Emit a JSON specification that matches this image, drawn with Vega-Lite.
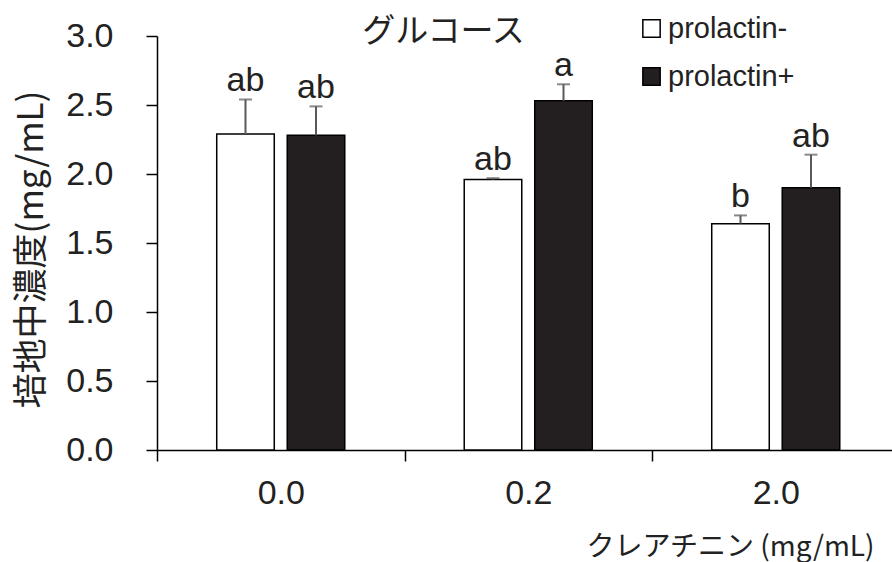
{
  "$schema": "https://vega.github.io/schema/vega-lite/v6.json",
  "width": 735,
  "height": 414,
  "autosize": {"type": "none"},
  "padding": {"left": 157, "top": 36, "right": 0, "bottom": 112},
  "background": "white",
  "config": {
    "view": {"stroke": null},
    "font": "Liberation Sans, Noto Sans CJK JP"
  },
  "title": {
    "text": "グルコース",
    "font": "Noto Sans CJK JP",
    "fontSize": 33,
    "fontWeight": "normal",
    "color": "#222222",
    "anchor": "middle",
    "frame": "group",
    "offset": 0,
    "baseline": "alphabetic",
    "dx": -81,
    "dy": 61
  },
  "data": {
    "values": [
      {"conc": "0.0", "group": "prolactin-", "value": 2.29, "upper": 2.54, "label": "ab"},
      {"conc": "0.0", "group": "prolactin+", "value": 2.28, "upper": 2.49, "label": "ab"},
      {"conc": "0.2", "group": "prolactin-", "value": 1.96, "upper": 1.97, "label": "ab"},
      {"conc": "0.2", "group": "prolactin+", "value": 2.53, "upper": 2.65, "label": "a"},
      {"conc": "2.0", "group": "prolactin-", "value": 1.64, "upper": 1.70, "label": "b"},
      {"conc": "2.0", "group": "prolactin+", "value": 1.90, "upper": 2.14, "label": "ab"}
    ]
  },
  "encoding": {
    "x": {
      "field": "conc",
      "type": "nominal",
      "sort": ["0.0", "0.2", "2.0"],
      "scale": {"range": [0, 742.5], "paddingInner": 0, "paddingOuter": 0},
      "axis": {
        "domainColor": "#000000",
        "domainWidth": 1.5,
        "tickColor": "#000000",
        "tickWidth": 1.5,
        "tickSize": 11,
        "tickBand": "extent",
        "labelAngle": 0,
        "labelFontSize": 34,
        "labelColor": "#222222",
        "labelPadding": 15,
        "labelAlign": "center",
        "title": "クレアチニン (mg/mL)",
        "titleFont": "Noto Sans CJK JP",
        "titleFontSize": 28,
        "titleFontWeight": "normal",
        "titleColor": "#222222",
        "titleX": 717,
        "titleY": 105,
        "titleAlign": "right",
        "titleBaseline": "alphabetic"
      }
    },
    "xOffset": {
      "field": "group",
      "type": "nominal",
      "sort": ["prolactin-", "prolactin+"],
      "scale": {"paddingInner": 0.184, "paddingOuter": 0.847}
    }
  },
  "layer": [
    {
      "mark": {"type": "bar", "stroke": "#000000", "strokeWidth": 1.5},
      "encoding": {
        "y": {
          "field": "value",
          "type": "quantitative",
          "scale": {"domain": [0, 3], "nice": false},
          "axis": {
            "values": [0, 0.5, 1, 1.5, 2, 2.5, 3],
            "format": ".1f",
            "grid": false,
            "domainColor": "#000000",
            "domainWidth": 1.5,
            "tickColor": "#000000",
            "tickWidth": 1.5,
            "tickSize": 11,
            "labelFontSize": 34,
            "labelColor": "#222222",
            "labelPadding": 33,
            "title": "培地中濃度(mg/mL)",
            "titleFont": "Noto Sans CJK JP",
            "titleFontSize": 35,
            "titleFontWeight": "normal",
            "titleColor": "#222222",
            "titleX": -126,
            "titleY": 213,
            "titleAngle": -90,
            "titleAlign": "center",
            "titleBaseline": "middle"
          }
        },
        "fill": {
          "field": "group",
          "type": "nominal",
          "sort": ["prolactin-", "prolactin+"],
          "scale": {"domain": ["prolactin-", "prolactin+"], "range": ["#ffffff", "#231f20"]},
          "legend": {
            "orient": "none",
            "legendX": 480,
            "legendY": -22,
            "title": null,
            "padding": 0,
            "symbolType": "square",
            "symbolSize": 300,
            "symbolStrokeColor": "#000000",
            "symbolStrokeWidth": 1.5,
            "symbolOpacity": 1,
            "labelFontSize": 29,
            "labelColor": "#222222",
            "labelOffset": 2,
            "rowPadding": 18
          }
        }
      }
    },
    {
      "mark": {"type": "rule", "color": "#595959", "strokeWidth": 2},
      "encoding": {
        "y": {"field": "value", "type": "quantitative"},
        "y2": {"field": "upper"}
      }
    },
    {
      "mark": {"type": "tick", "color": "#595959", "thickness": 2, "size": 13},
      "encoding": {
        "y": {"field": "upper", "type": "quantitative"}
      }
    },
    {
      "mark": {"type": "text", "fontSize": 34, "color": "#222222", "baseline": "alphabetic", "dy": -8},
      "encoding": {
        "y": {"field": "upper", "type": "quantitative"},
        "text": {"field": "label"}
      }
    }
  ]
}
